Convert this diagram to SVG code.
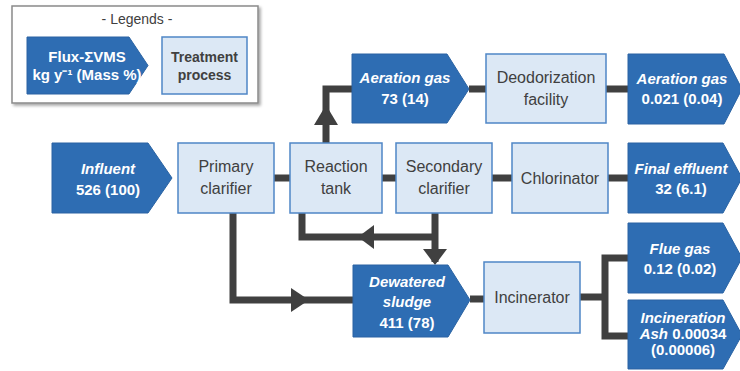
<svg xmlns="http://www.w3.org/2000/svg" width="740" height="371" viewBox="0 0 740 371">
<style>
.flux{fill:#2E6DB3;stroke:#2A63A3;stroke-width:1}
.proc{fill:#DCE8F5;stroke:#4F86C6;stroke-width:1.5}
.fi{font-family:"Liberation Sans",Arial,sans-serif;font-size:15px;font-weight:bold;font-style:italic;fill:#fff;text-anchor:middle}
.fn{font-family:"Liberation Sans",Arial,sans-serif;font-size:15px;font-weight:bold;fill:#fff;text-anchor:middle}
.pt{font-family:"Liberation Sans",Arial,sans-serif;font-size:16px;fill:#404040;text-anchor:middle}
.con{fill:none;stroke:#404040;stroke-width:7;stroke-linejoin:miter}
.ah{fill:#404040}
</style>
<defs>
<filter id="sh" x="-5%" y="-5%" width="115%" height="120%">
<feDropShadow dx="2" dy="2" stdDeviation="1.5" flood-color="#000" flood-opacity="0.35"/>
</filter>
</defs>
<rect width="740" height="371" fill="#fff"/>

<g id="legend">
<rect x="12" y="6" width="246" height="97" fill="#fff" stroke="#8a8a8a" stroke-width="1.5" filter="url(#sh)"/>
<text x="137" y="24" font-family="Liberation Sans,Arial,sans-serif" font-size="14" fill="#404040" text-anchor="middle">- Legends -</text>
<polygon class="flux" points="27,37 129,37 148,65.5 129,94 27,94"/>
<text class="fn" x="87" y="62" font-size="14">Flux-ΣVMS</text>
<text class="fn" x="87" y="80" font-size="14">kg y⁻¹ (Mass %)</text>
<rect class="proc" x="162" y="37" width="85" height="57"/>
<text x="204.5" y="62" font-family="Liberation Sans,Arial,sans-serif" font-size="14" font-weight="bold" fill="#404040" text-anchor="middle">Treatment</text>
<text x="204.5" y="80" font-family="Liberation Sans,Arial,sans-serif" font-size="14" font-weight="bold" fill="#404040" text-anchor="middle">process</text>
</g>

<g id="connectors">
<path class="con" d="M274,178 H290 M382,178 H396 M492,178 H512 M608,178 H628"/>
<path class="con" d="M326,143 V89 H352"/>
<path class="con" d="M469,89 H486 M606,89 H628"/>
<path class="con" d="M233,213 V300 H353"/>
<path class="con" d="M302,213 V237 H435"/>
<path class="con" d="M435,213 V262"/>
<path class="con" d="M470,299 H484"/>
<path class="con" d="M580,297 H605 M628,258 H605 V336 H628"/>
<polygon class="ah" points="326,105 338,125 314,125"/>
<polygon class="ah" points="309,300 291,288 291,312"/>
<polygon class="ah" points="358,237 374,225 374,249"/>
<polygon class="ah" points="435,265 423,249 447,249"/>
</g>

<g id="influent">
<polygon class="flux" points="52,143 148,143 172,178 148,213 52,213"/>
<text class="fi" x="108" y="174">Influent</text>
<text class="fn" x="108" y="195">526 (100)</text>
</g>

<g id="primary-clarifier">
<rect class="proc" x="178" y="143" width="96" height="70"/>
<text class="pt" x="226" y="172">Primary</text>
<text class="pt" x="226" y="194">clarifier</text>
</g>

<g id="reaction-tank">
<rect class="proc" x="290" y="143" width="92" height="70"/>
<text class="pt" x="336" y="172">Reaction</text>
<text class="pt" x="336" y="194">tank</text>
</g>

<g id="secondary-clarifier">
<rect class="proc" x="396" y="143" width="96" height="70"/>
<text class="pt" x="444" y="172">Secondary</text>
<text class="pt" x="444" y="194">clarifier</text>
</g>

<g id="chlorinator">
<rect class="proc" x="512" y="143" width="96" height="70"/>
<text class="pt" x="560" y="184">Chlorinator</text>
</g>

<g id="final-effluent">
<polygon class="flux" points="628,143 723,143 742,178 723,213 628,213"/>
<text class="fi" x="681" y="174">Final effluent</text>
<text class="fn" x="681" y="194">32 (6.1)</text>
</g>

<g id="aeration-gas-73">
<polygon class="flux" points="352,54 447,54 469,89 447,123 352,123"/>
<text class="fi" x="405" y="83">Aeration gas</text>
<text class="fn" x="405" y="104">73 (14)</text>
</g>

<g id="deodorization">
<rect class="proc" x="486" y="54" width="120" height="69"/>
<text class="pt" x="546" y="83">Deodorization</text>
<text class="pt" x="546" y="105">facility</text>
</g>

<g id="aeration-gas-out">
<polygon class="flux" points="628,54 724,54 742,89 724,124 628,124"/>
<text class="fi" x="682" y="84">Aeration gas</text>
<text class="fn" x="682" y="104">0.021 (0.04)</text>
</g>

<g id="dewatered-sludge">
<polygon class="flux" points="353,265 448,265 470,300 448,337 353,337"/>
<text class="fi" x="407" y="287">Dewatered</text>
<text class="fi" x="407" y="307">sludge</text>
<text class="fn" x="407" y="328">411 (78)</text>
</g>

<g id="incinerator">
<rect class="proc" x="484" y="262" width="96" height="71"/>
<text class="pt" x="532" y="303">Incinerator</text>
</g>

<g id="flue-gas">
<polygon class="flux" points="628,223 723,223 742,258 723,293 628,293"/>
<text class="fi" x="680" y="254">Flue gas</text>
<text class="fn" x="680" y="274">0.12 (0.02)</text>
</g>

<g id="incineration-ash">
<polygon class="flux" points="628,300 723,300 742,335 723,369 628,369"/>
<text class="fi" x="683" y="323">Incineration</text>
<text class="fn" x="683" y="339"><tspan font-style="italic">Ash</tspan> 0.00034</text>
<text class="fn" x="683" y="355">(0.00006)</text>
</g>
</svg>
